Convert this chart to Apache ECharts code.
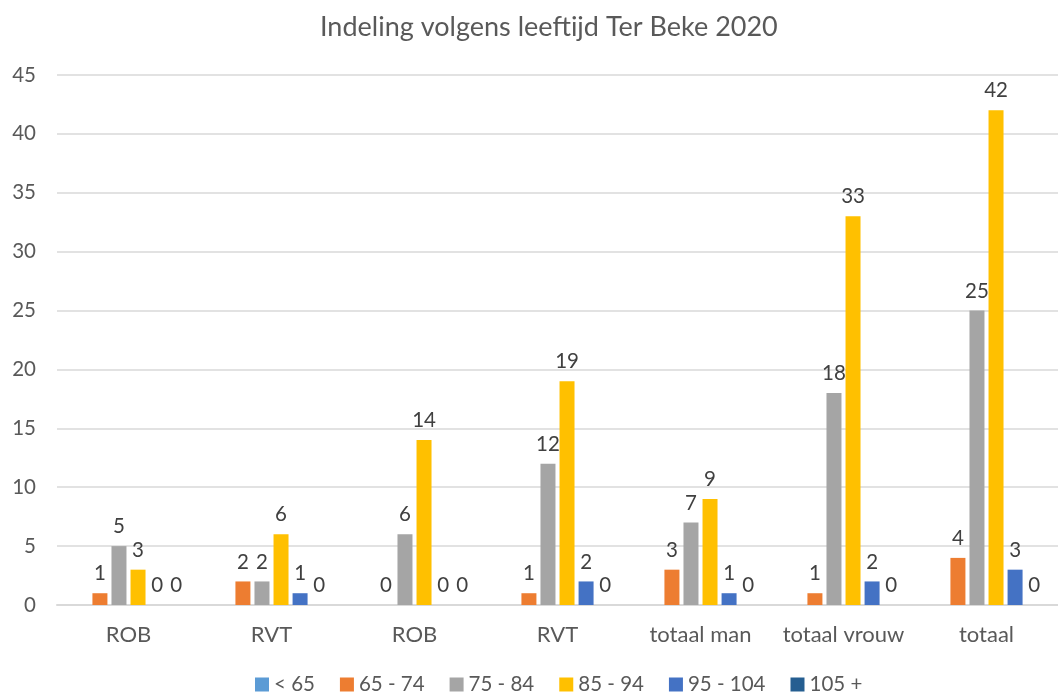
<!DOCTYPE html>
<html><head><meta charset="utf-8">
<script src="https://cdn.jsdelivr.net/npm/echarts@6/dist/echarts.min.js"></script>
<style>html,body{margin:0;padding:0;background:#fff}#c{width:1058px;height:697px}</style>
</head><body><div id="c"></div>
<script>
const categories = ['ROB','RVT','ROB','RVT','totaal man','totaal vrouw','totaal'];
const seriesNames = ['< 65','65 - 74','75 - 84','85 - 94','95 - 104','105 +'];
const under65 = [null,null,null,null,null,null,null];
const age65_74 = [1,2,0,1,3,1,4];
const age75_84 = [5,2,6,12,7,18,25];
const age85_94 = [3,6,14,19,9,33,42];
const age95_104 = [0,1,0,2,1,2,3];
const age105plus = [0,0,0,0,0,0,0];
const yTicks = [0,5,10,15,20,25,30,35,40,45];

const colors = ['#5B9BD5','#ED7D31','#A5A5A5','#FFC000','#4472C4','#255E91'];
const dataSets = [under65,age65_74,age75_84,age85_94,age95_104,age105plus];
const font = 'Lato, "Open Sans", sans-serif';

const chart = echarts.init(document.getElementById('c'));
chart.setOption({
  animation:false,
  color: colors,
  title:{text:'Indeling volgens leeftijd Ter Beke 2020',left:315,top:9,
    textStyle:{fontFamily:font,fontSize:27,fontWeight:'normal',color:'#595959'}},
  grid:{left:57,right:0,top:75,bottom:92,containLabel:false},
  legend:{bottom:-3,left:250,itemWidth:14,itemHeight:14,itemGap:25,icon:'rect',
    textStyle:{fontFamily:font,fontSize:20.5,color:'#595959'},data:seriesNames},
  xAxis:{type:'category',data:categories,
    axisLine:{lineStyle:{color:'#D9D9D9',width:2}},axisTick:{show:false},
    axisLabel:{interval:0,hideOverlap:false,fontFamily:font,fontSize:22,color:'#595959',margin:19}},
  yAxis:{type:'value',min:0,max:45,interval:5,
    axisLabel:{fontFamily:font,fontSize:20.5,color:'#595959',margin:21,
      formatter:v=>yTicks.includes(v)?String(v):''},
    splitLine:{lineStyle:{color:'#D9D9D9',width:1.5}},axisLine:{show:false},axisTick:{show:false}},
  series: seriesNames.map((n,i)=>({
    name:n,type:'bar',data:dataSets[i],barWidth:15,barGap:'27%',
    label:{show:true,position:'top',distance:9,fontFamily:font,fontSize:20.5,color:'#404040'}
  }))
});
</script></body></html>
